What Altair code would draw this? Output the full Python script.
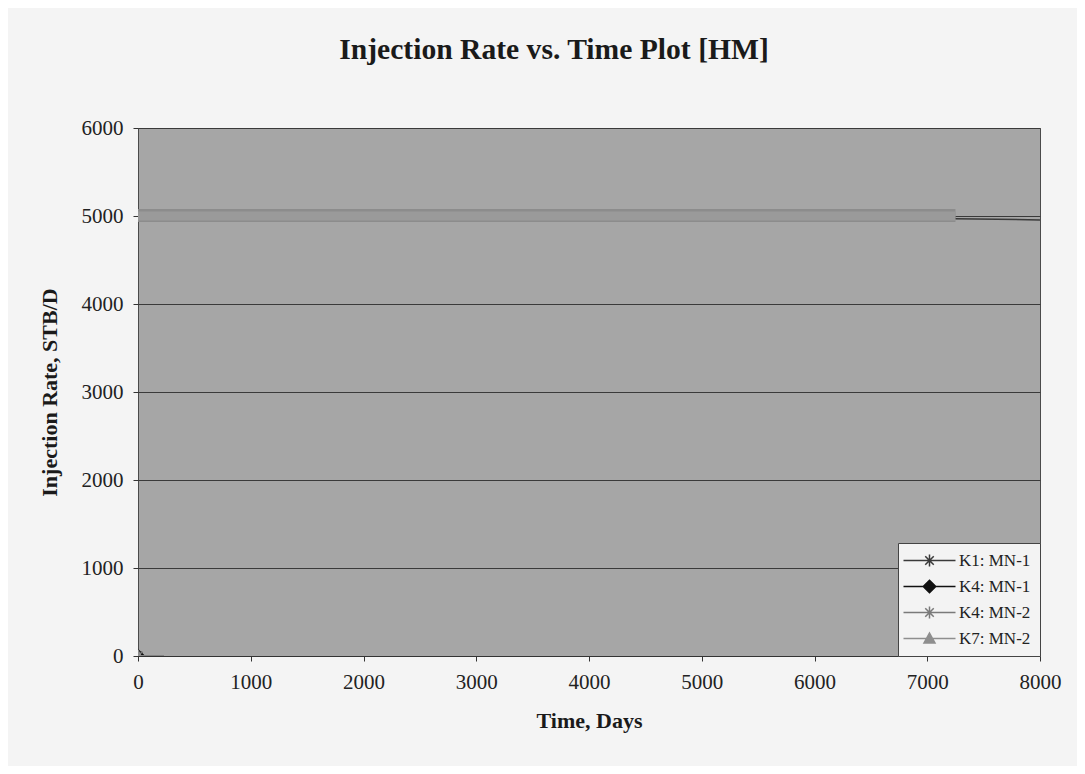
import altair as alt
import pandas as pd

series_names = ["K1: MN-1", "K4: MN-1", "K4: MN-2", "K7: MN-2"]

# line data per series (time in days, injection rate STB/D)
k1_mn1_time = [0, 7250, 8000]
k1_mn1_rate = [5000, 4970, 4955]
k4_mn1_time = [0, 7250]
k4_mn1_rate = [5000, 4975]
k4_mn2_time = [0, 7250]
k4_mn2_rate = [5005, 5005]
k7_mn2_time = [0, 7250]
k7_mn2_rate = [5000, 5000]

# start markers
start_time = [0, 0, 0, 0]
start_rate = [0, 0, 0, 0]

x_ticks = [0, 1000, 2000, 3000, 4000, 5000, 6000, 7000, 8000]
y_ticks = [0, 1000, 2000, 3000, 4000, 5000, 6000]

line_colors = ["#3a3a3a", "#111111", "#8c8c8c", "#9a9a9a"]
line_widths = [1.5, 1.5, 13, 9]
marker_colors = ["#3a3a3a", "#111111", "#7a7a7a", "#8e8e8e"]

# legend-style symbols: short line + marker
star = "M-5.2,0H5.2M0,-1.2V1.2M-0.85,-0.85L0.85,0.85M-0.85,0.85L0.85,-0.85"
diamond = "M-5.2,0H5.2M0,-1.25L1.25,0L0,1.25L-1.25,0Z"
triangle = "M-5.2,0H5.2M0,-1.1L1.1,0.9L-1.1,0.9Z"
shapes = [star, diamond, star, triangle]

series_data = [
    (k1_mn1_time, k1_mn1_rate),
    (k4_mn1_time, k4_mn1_rate),
    (k4_mn2_time, k4_mn2_rate),
    (k7_mn2_time, k7_mn2_rate),
]

rows = []
for name, (ts, rs) in zip(series_names, series_data):
    for t, r in zip(ts, rs):
        rows.append({"series": name, "time": t, "rate": r})
lines_df = pd.DataFrame(rows)
points_df = pd.DataFrame({"series": series_names, "time": start_time, "rate": start_rate})

xscale = alt.Scale(domain=[0, 8000], nice=False)
yscale = alt.Scale(domain=[0, 6000], nice=False)

xenc = alt.X("time:Q", scale=xscale, title="Time, Days",
             axis=alt.Axis(values=x_ticks, grid=False, format="d", labelFlush=False))
yenc = alt.Y("rate:Q", scale=yscale, title="Injection Rate, STB/D",
             axis=alt.Axis(values=y_ticks, grid=True, format="d"))

layers = []
for name, col, w in zip(series_names, line_colors, line_widths):
    layers.append(
        alt.Chart(lines_df)
        .transform_filter(alt.datum.series == name)
        .mark_line(color=col, strokeWidth=w, clip=True)
        .encode(x=xenc, y=yenc)
    )

legend = alt.Legend(
    title=None, orient="bottom-right", offset=0,
    fillColor="#f3f3f3", strokeColor="#444444", padding=9,
    labelFont="Liberation Serif", labelFontSize=17, labelColor="#222222",
    symbolSize=100, symbolStrokeWidth=1.5, symbolOffset=14, labelOffset=21,
    rowPadding=7,
)

points = (
    alt.Chart(points_df)
    .mark_point(filled=True, size=100, strokeWidth=1.5, clip=True, opacity=1)
    .encode(
        x=xenc, y=yenc,
        fill=alt.Fill("series:N", scale=alt.Scale(domain=series_names, range=marker_colors), legend=legend),
        stroke=alt.Stroke("series:N", scale=alt.Scale(domain=series_names, range=marker_colors), legend=legend),
        shape=alt.Shape("series:N", scale=alt.Scale(domain=series_names, range=shapes), legend=legend),
    )
)

chart = (
    alt.layer(*layers, points)
    .properties(
        width=902, height=528,
        autosize=alt.AutoSizeParams(type="none"),
        padding={"left": 130, "top": 120, "right": 37, "bottom": 110},
        background="#f4f4f4",
        title=alt.TitleParams(
            "Injection Rate vs. Time Plot [HM]",
            font="Liberation Serif", fontSize=29.6, fontWeight="bold", color="#1a1a1a",
            anchor="middle", frame="group", dx=-35, offset=51,
        ),
    )
    .configure_view(fill="#a6a6a6", stroke="#4a4a4a", strokeWidth=1)
    .configure_axis(
        labelFont="Liberation Serif", labelFontSize=21, labelColor="#222222",
        titleFont="Liberation Serif", titleFontSize=22, titleFontWeight="bold", titleColor="#1a1a1a",
        tickColor="#333333", tickSize=5, domainColor="#333333",
        gridColor="#3a3a3a", gridWidth=1, gridOpacity=1,
    )
    .configure_axisY(labelPadding=10, titlePadding=20, domain=False)
    .configure_axisX(labelPadding=10, titlePadding=18)
)

chart.save("out.html", embed_options={"renderer": "svg", "actions": False})
